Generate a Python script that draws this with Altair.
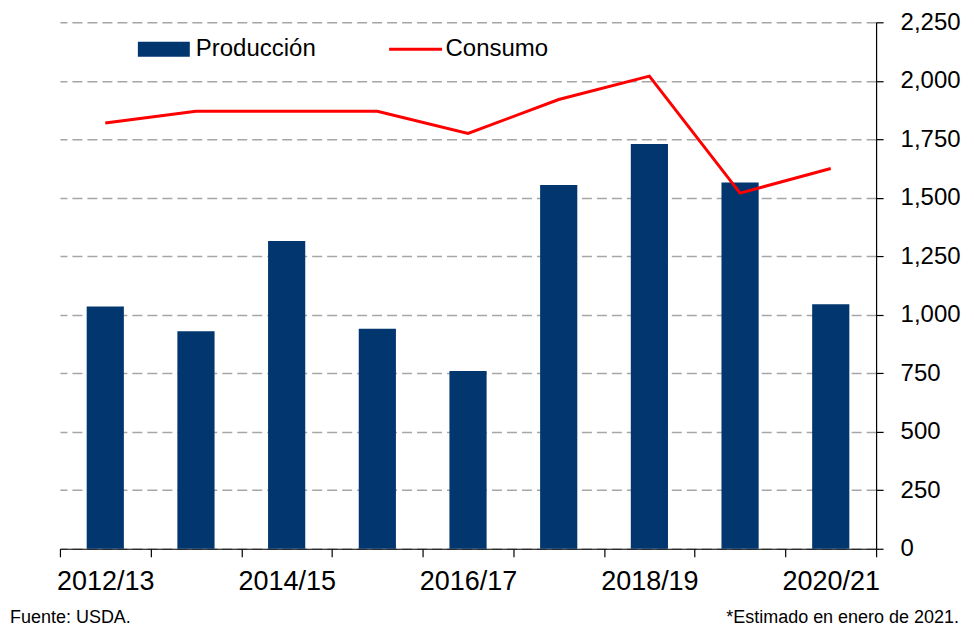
import altair as alt
import pandas as pd

temporadas = ["2012/13", "2013/14", "2014/15", "2015/16", "2016/17",
              "2017/18", "2018/19", "2019/20", "2020/21"]
produccion = [1035, 930, 1315, 940, 760, 1555, 1730, 1565, 1045]
consumo = [1820, 1870, 1870, 1870, 1775, 1920, 2020, 1520, 1625]
series = ["Producción", "Consumo"]
etiquetas_x = ["2012/13", "2014/15", "2016/17", "2018/19", "2020/21"]
y_ticks = [0, 250, 500, 750, 1000, 1250, 1500, 1750, 2000, 2250]
nota_izq = ["Fuente: USDA."]
nota_der = ["*Estimado en enero de 2021."]

df = pd.DataFrame({"temporada": temporadas, "produccion": produccion, "consumo": consumo,
                   "s_prod": [series[0]] * len(temporadas),
                   "s_cons": [series[1]] * len(temporadas)})

NAVY = "#02366F"
RED = "#FF0000"
FONT = "Liberation Sans"

label_list = "[" + ",".join("'" + s + "'" for s in etiquetas_x) + "]"

x_scale = alt.Scale(paddingInner=0, paddingOuter=0)
x_axis = alt.Axis(labelAngle=0, tickBand="extent",
                  labelExpr=f"indexof({label_list}, datum.value) >= 0 ? datum.value : ''",
                  labelFontSize=27, labelFont=FONT, labelColor="black",
                  domainColor="black", tickColor="black", tickSize=8,
                  labelPadding=12, grid=False, domainWidth=1.2, tickWidth=1.2)

y_scale = alt.Scale(domain=[0, 2250], nice=False)
y_axis = alt.Axis(orient="right", values=y_ticks, format=",d", grid=True,
                  gridDash=[10, 5], gridColor="#a6a6a6", gridWidth=1.5,
                  labelFontSize=24, labelFont=FONT, labelColor="black",
                  labelPadding=17, tickSize=7, tickColor="black",
                  domainColor="black", domainWidth=1.2, tickWidth=1.2,
                  labelAlign="left", labelBaseline="middle")

bars = alt.Chart(df).mark_bar(width=alt.RelativeBandSize(0.41)).encode(
    x=alt.X("temporada:N", sort=temporadas, title=None, scale=x_scale, axis=x_axis),
    y=alt.Y("produccion:Q", scale=y_scale, axis=y_axis, title=None),
    fill=alt.Fill(
        "s_prod:N",
        scale=alt.Scale(domain=[series[0]], range=[NAVY]),
        legend=alt.Legend(orient="none", legendX=78, legendY=1, title=None,
                          symbolType="M-1,-0.29L1,-0.29L1,0.29L-1,0.29Z",
                          symbolSize=2704, symbolStrokeWidth=0,
                          labelFontSize=24, labelFont=FONT, labelColor="black",
                          labelOffset=6),
    ),
)

line = alt.Chart(df).mark_line(strokeWidth=3).encode(
    x=alt.X("temporada:N", sort=temporadas, title=None, scale=x_scale, axis=x_axis),
    y=alt.Y("consumo:Q", scale=y_scale, axis=y_axis, title=None),
    stroke=alt.Stroke(
        "s_cons:N",
        scale=alt.Scale(domain=[series[1]], range=[RED]),
        legend=alt.Legend(orient="none", legendX=328, legendY=-1, title=None,
                          symbolType="stroke", symbolSize=2809,
                          symbolStrokeWidth=3,
                          labelFontSize=24, labelFont=FONT, labelColor="black",
                          labelOffset=2),
    ),
)

nota1 = alt.Chart(pd.DataFrame({"t": nota_izq})).mark_text(
    align="left", baseline="alphabetic", fontSize=18, font=FONT, color="black"
).encode(text="t:N", x=alt.value(-50), y=alt.value(601))

nota2 = alt.Chart(pd.DataFrame({"t": nota_der})).mark_text(
    align="right", baseline="alphabetic", fontSize=18, font=FONT, color="black"
).encode(text="t:N", x=alt.value(900), y=alt.value(601))

chart = alt.layer(bars, line, nota1, nota2).properties(
    width=817, height=527,
    padding={"left": 52, "top": 14, "right": 90, "bottom": 78},
    autosize="none",
).configure_view(stroke=None)

chart.save("out.html", embed_options={"renderer": "svg", "actions": False})
